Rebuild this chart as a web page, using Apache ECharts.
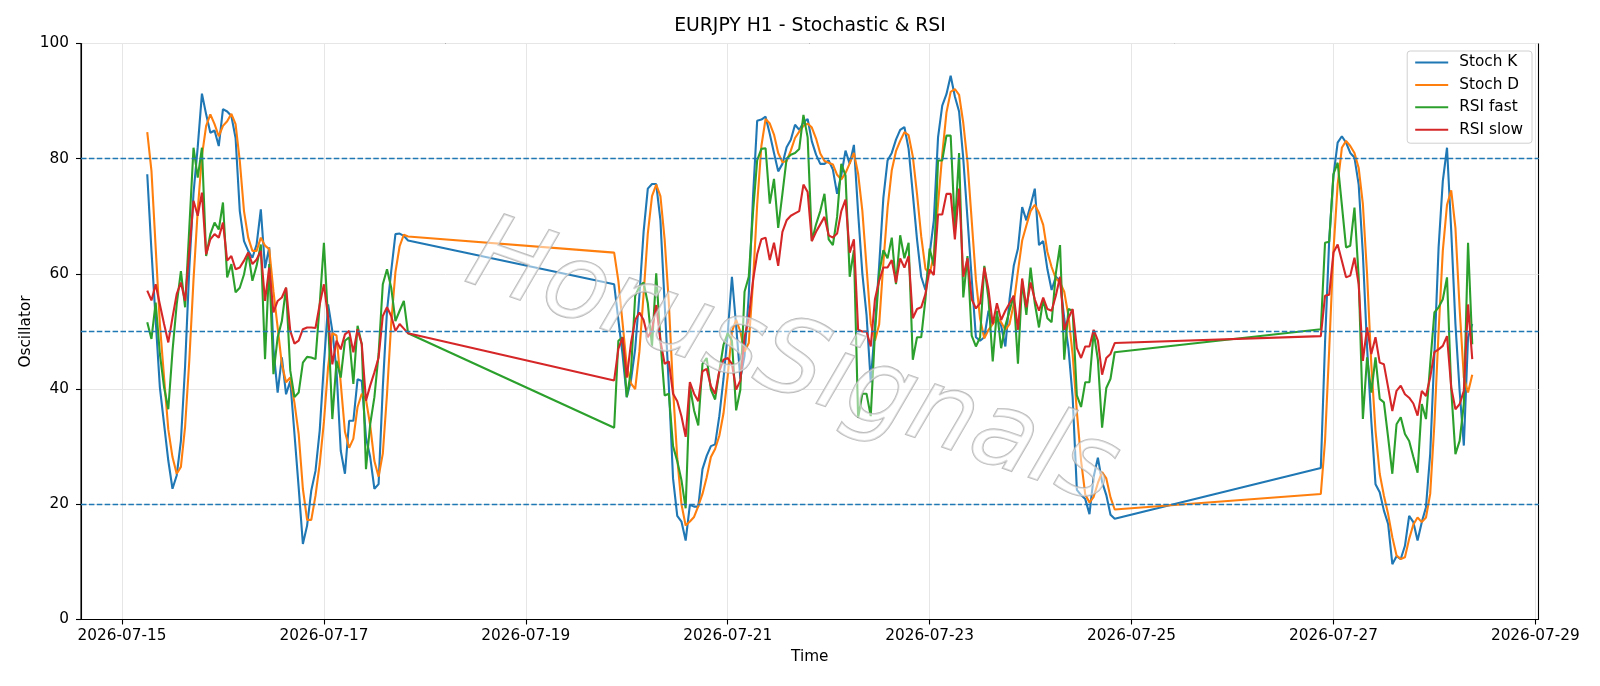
<!DOCTYPE html>
<html>
<head>
<meta charset="utf-8">
<title>EURJPY H1 - Stochastic & RSI</title>
<script src="https://cdn.jsdelivr.net/npm/echarts@6/dist/echarts.min.js"></script>
<style>
  html, body { margin: 0; padding: 0; background: #fff; }
  #chart { width: 1600px; height: 686px; }
</style>
</head>
<body>
<div id="chart"></div>
<script>
// hourly bars in three trading blocks, weekends are skipped
const segmentStarts = ['2026-07-15T06:00:00Z', '2026-07-19T21:00:00Z', '2026-07-26T21:00:00Z'];
const segmentLengths = [63, 120, 37];
const dateTicks = ['2026-07-15', '2026-07-17', '2026-07-19', '2026-07-21', '2026-07-23', '2026-07-25', '2026-07-27', '2026-07-29'];
const yTicks = [0, 20, 40, 60, 80, 100];
const levels = [20, 50, 80];

const stochK = [
  77.3, 64, 52, 40.3, 33.9, 27.6, 22.7, 25, 31, 44, 61, 74, 82, 91.3, 87.7, 84.5, 84.9, 82.2, 88.6, 88.2, 87.4, 83.6,
  70.9, 65.7, 64, 62.8, 65.1, 71.2, 61, 64.6, 47, 39.4, 45.5, 39.1, 41.4, 32.2, 22.9, 13.1, 16.3, 22.4, 25.8, 32.8,
  44.3, 54.7, 50.1, 43.2, 29.3, 25.3, 34.5, 34.5, 41.7, 41.4, 31.6, 28.2, 22.7, 23.5, 40.3, 53.6, 60.5, 66.9, 67, 66.6, 65.8,
  58.2, 52, 46, 38.6, 41.5, 47, 56.2, 67.3, 74.8, 75.6, 75.6, 69.3, 54.9, 40.5, 24.5, 18, 17, 13.7, 19.9, 19.6,
  19.6, 26.1, 28.4, 30.1, 30.4, 35.3, 41.8, 49.7, 59.5, 51, 41.8, 45.8, 56.2, 73.2, 86.6, 86.8, 87.3, 84.3, 81, 77.8,
  79.1, 82, 83.3, 85.9, 85, 86.3, 86.9, 83, 80.7, 79.1, 79.1, 79.7, 78.1, 73.9, 77.1, 81.4, 79.1, 82.4, 70.6, 60.1,
  52.9, 41.2, 51, 61.4, 73.2, 79.7, 81, 83.3, 85, 85.5, 81.7, 73.9, 66, 59.5, 57.2, 63.4, 69.3, 83.7, 89.2, 91.2,
  94.4, 90.8, 88.2, 80, 69.6, 59.2, 49, 48.4, 49, 53.6, 51.3, 52.6, 51, 47.4, 55.6, 61.4, 64.4, 71.6, 69.3, 71.9,
  74.8, 65, 65.7, 60.8, 57.2, 59.5, 58.8, 52.3, 47.1, 38.6, 22.5, 21.6, 20.9, 18.3, 24.8, 28.1, 23.9, 21.6, 18.2, 17.5,
  26.3, 48, 66, 77, 82.8, 83.9, 82.8, 81, 80.2, 75.5, 63.4, 47.2, 34.5, 23.5, 22.1, 18.9, 16.6, 9.6, 11, 10.5,
  12.8, 18, 16.9, 13.7, 16.9, 19.5, 28.7, 46.1, 64.6, 76.1, 81.9, 67.5, 51.3, 39.7, 30.2, 49, 51.3
];

const stochD = [
  84.6, 77.9, 64.6, 51.3, 42, 33, 28.2, 25.3, 26.5, 33.5, 45, 59, 71, 80.5, 85.7, 87.7, 86, 83.9, 85.7, 86.5, 87.8, 86,
  79.6, 70.9, 66.3, 64, 64, 66.3, 64.9, 64.3, 57, 50.7, 44.3, 41.2, 42, 37.6, 32.2, 22.7, 17.3, 17.3, 21.5, 27,
  34.3, 43.9, 49.7, 49.3, 41, 32.6, 29.8, 31.4, 36.9, 39.2, 38.2, 33.7, 27.5, 24.8, 28.8, 39.1, 51.5, 60.3, 64.8, 66.8, 66.5,
  63.7, 58.8, 51.5, 44, 41, 40, 46.5, 56.5, 67, 73.5, 75.5, 73.5, 66, 55, 40, 28, 20, 16.3, 17, 17.8,
  19.7, 21.8, 24.7, 28.2, 29.6, 31.9, 35.8, 42.3, 50, 52, 50, 46.5, 48, 58.4, 72, 82.2, 86.9, 86.1, 84.2, 81,
  79.4, 79.6, 81.4, 83.6, 84.7, 85.7, 86.1, 85.4, 83.5, 80.9, 79.6, 79.3, 79, 77.2, 76.4, 77.5, 79.2, 81, 77.4, 71,
  61.2, 51.4, 48.4, 51.2, 61.9, 71.4, 78, 81.3, 83.1, 84.6, 84.1, 80.4, 73.9, 66.5, 60.9, 60, 63.3, 72.1, 80.7, 88,
  91.6, 92.1, 91.1, 86.2, 79.4, 69.3, 59, 52.2, 48.8, 50.3, 51.3, 52.5, 51.6, 50.3, 51.3, 54.8, 60.5, 65.8, 68.4, 70.9,
  72, 70.6, 68.5, 63.8, 61.2, 59.2, 58.5, 56.9, 52.7, 46, 36.1, 27.6, 21.7, 20.3, 21.3, 23.7, 25.6, 24.5, 21.2, 19.1,
  21.8, 31, 47, 64, 75.5, 81.9, 83.1, 82.2, 81, 78.4, 72.1, 59.9, 44.3, 32.8, 25.3, 21.5, 18.3, 14.3, 11.1, 10.5,
  10.8, 14, 16.5, 17.7, 16.9, 17.7, 21.8, 34, 50, 64, 72, 74.5, 68, 54, 42, 39.4, 42.5
];

const rsiFast = [
  51.6, 48.7, 55, 46.1, 40.3, 36.5, 46.6, 54.7, 60.5, 54.2, 68, 81.9, 76.7, 81.9, 63.1, 66.9, 68.9, 67.7, 72.4, 59.4, 61.7, 56.8,
  57.6, 59.9, 63.7, 58.8, 61.4, 65.1, 45.2, 61.7, 42.6, 49, 51.8, 57.6, 43.2, 38.6, 39.4, 44.6, 45.6, 45.5, 45.2, 54.7,
  65.4, 51.8, 34.8, 44.9, 42, 48.4, 49, 40.9, 51, 47.8, 26.1, 33.9, 38.6, 46.1, 58.2, 60.8, 57.6, 51.8, 53.6, 55.3, 49.7,
  33.3, 48.4, 49, 38.6, 43.1, 56.2, 57.8, 58.5, 54.9, 47.4, 60.1, 48.4, 38.9, 39.2, 30.1, 27.5, 24.2, 19.3, 40.5, 36.3,
  33.7, 44.4, 45.4, 39.9, 38.2, 43.1, 47.7, 49.7, 48.4, 36.3, 39.9, 56.9, 59.5, 70.6, 79.7, 81.7, 81.8, 72.2, 76.5, 68,
  73.9, 80, 80.7, 81, 81.7, 87.6, 83.7, 65.7, 68.6, 70.9, 73.9, 66, 65, 69.9, 79.1, 77.1, 59.5, 64.1, 35, 39.2,
  39.2, 35.3, 49.7, 60.1, 64.1, 62.7, 66.3, 58.2, 66.7, 62.7, 65.4, 45.1, 49, 49, 55.6, 64.4, 61.4, 79.7, 79.7, 84,
  84, 68, 81, 55.9, 63.1, 49.3, 47.4, 49, 61.4, 55.6, 44.8, 53.6, 47.1, 51, 53.6, 56.2, 44.4, 58.8, 52.9, 61.1,
  54.9, 50.7, 55.6, 52.3, 51.6, 60.1, 65, 45.1, 53.9, 53.6, 38.9, 36.9, 41.2, 41.2, 50, 45.1, 33.3, 40.2, 41.8, 46.4,
  50.4, 65.4, 65.6, 77.3, 79.3, 72, 64.6, 64.9, 71.5, 59.4, 34.8, 45.5, 39.4, 45.5, 38.3, 37.7, 31.6, 25.3, 33.9, 35.1,
  32.2, 31, 28.2, 25.5, 37.4, 34.8, 44.3, 53.3, 54.2, 55.6, 59.4, 40, 28.7, 31, 37.4, 65.4, 47.8
];

const rsiSlow = [
  57.1, 55.4, 58.2, 54.7, 51.3, 48.1, 52.4, 56.5, 58.5, 55.3, 64, 72.7, 70.1, 74.1, 63.4, 66, 66.9, 66.3, 68.9, 62.3, 63.1, 60.8,
  61.1, 62.3, 63.7, 61.7, 62.5, 64, 55.3, 61.1, 53.3, 55.3, 55.9, 57.6, 50.1, 47.9, 48.4, 50.4, 50.7, 50.7, 50.6, 54.7,
  58.2, 52.4, 44.3, 48.4, 46.9, 49.5, 50.1, 46.4, 50.4, 47.8, 38, 40.6, 42.9, 45.5, 52.7, 54.2, 52.7, 50.1, 51.3, 50.5, 49.7,
  41.5, 47, 49, 42, 48, 52, 53.3, 52, 49, 50.3, 54.6, 48.4, 44.4, 44.8, 39.2, 37.9, 35.3, 31.7, 41.2, 39.2,
  37.9, 43.1, 43.5, 40.5, 39.2, 43.1, 45.1, 45.4, 44.4, 39.9, 41.5, 49, 52.3, 58.8, 63.4, 66, 66.3, 62.4, 65.4, 61.4,
  67.3, 69.3, 70.1, 70.5, 70.9, 75.5, 74.2, 65.7, 67.3, 68.6, 69.9, 66.7, 66.3, 67, 70.9, 72.9, 63.7, 66, 50.3, 50,
  50, 47.4, 55.6, 58.8, 61.1, 61.1, 62.4, 58.5, 62.7, 61.1, 63.1, 52.3, 53.9, 54.2, 56.5, 60.8, 59.8, 70.3, 70.3, 73.9,
  73.9, 66, 74.8, 59.5, 62.7, 55.6, 54, 54.9, 61.1, 57.2, 51.3, 54.9, 52, 53.6, 54.9, 56.2, 50.3, 59.2, 54.2, 58.5,
  55.6, 53.6, 55.9, 53.9, 53.6, 56.2, 59.5, 50.3, 52.3, 53.9, 47.1, 45.4, 47.4, 47.4, 50.3, 48.4, 42.5, 45.4, 46.1, 48,
  49.2, 56.2, 56.4, 63.7, 65.1, 62.3, 59.4, 59.7, 62.8, 58.2, 44.9, 50.7, 46.1, 49, 44.6, 44.3, 40.3, 36.2, 39.7, 40.6,
  39.1, 38.5, 37.5, 35.4, 39.7, 38.8, 42, 46.4, 46.9, 47.5, 49.2, 40.3, 36.5, 37.4, 39.7, 54.7, 45.2
];

const HOUR = 3600 * 1000;
const times = [];
segmentStarts.forEach(function (s, i) {
  const t0 = Date.parse(s);
  for (let k = 0; k < segmentLengths[i]; k++) times.push(t0 + k * HOUR);
});
const pairs = vals => vals.map((v, i) => [times[i], v]);

// matplotlib style 5% margin on the time axis
const tFirst = times[0];
const tLast = times[times.length - 1];
const pad = (tLast - tFirst) * 0.05;
const tickValues = dateTicks.map(d => Date.parse(d + 'T00:00:00Z'));

const FONT = 'DejaVu Sans';
const FS = 15.3;
const chart = echarts.init(document.getElementById('chart'));

function lineSeries(name, vals, color, extra) {
  return Object.assign({
    name: name,
    type: 'line',
    data: pairs(vals),
    symbol: 'none',
    lineStyle: { width: 2.1, color: color },
    itemStyle: { color: color },
    emphasis: { disabled: true }
  }, extra || {});
}

chart.setOption({
  animation: false,
  backgroundColor: '#fff',
  grid: {
    left: 81, right: 61.5, top: 43.5, bottom: 66.5,
    show: true, borderColor: '#000', borderWidth: 1.1, backgroundColor: 'transparent'
  },
  legend: {
    orient: 'vertical',
    right: 68, top: 51,
    itemWidth: 33, itemHeight: 16, itemGap: 7.4,
    padding: [4, 9, 6, 7],
    backgroundColor: 'rgba(255,255,255,0.8)',
    borderColor: '#d0d0d0', borderWidth: 1, borderRadius: 3,
    itemStyle: { opacity: 0 },
    textStyle: { fontFamily: FONT, fontSize: FS, color: '#000', padding: [0, 0, 0, 6] },
    data: ['Stoch K', 'Stoch D', 'RSI fast', 'RSI slow']
  },
  xAxis: {
    type: 'value',
    min: tFirst - pad,
    max: tLast + pad,
    name: 'Time',
    nameLocation: 'middle',
    nameGap: 30,
    nameTextStyle: { fontFamily: FONT, fontSize: FS, color: '#000' },
    axisLine: { show: true, lineStyle: { color: '#000', width: 1.1 } },
    axisTick: { show: true, length: 5, lineStyle: { color: '#000', width: 1.1 }, customValues: tickValues },
    axisLabel: {
      customValues: tickValues,
      margin: 9,
      fontFamily: FONT, fontSize: FS, color: '#000',
      formatter: v => new Date(v).toISOString().slice(0, 10)
    },
    splitLine: { show: true, lineStyle: { color: '#e6e6e6', width: 1 } }
  },
  yAxis: {
    type: 'value',
    min: 0, max: 100, interval: 20,
    name: 'Oscillator',
    nameLocation: 'middle',
    nameGap: 47,
    nameMoveOverlap: false,
    nameRotate: 90,
    nameTextStyle: { fontFamily: FONT, fontSize: FS, color: '#000' },
    axisLine: { show: true, lineStyle: { color: '#000', width: 1.1 } },
    axisTick: { show: true, length: 5, lineStyle: { color: '#000', width: 1.1 }, customValues: yTicks },
    axisLabel: { customValues: yTicks, margin: 12, fontFamily: FONT, fontSize: FS, color: '#000' },
    splitLine: { show: true, lineStyle: { color: '#e6e6e6', width: 1 } }
  },
  graphic: [
    {
      type: 'text', x: 810, y: 26.5, silent: true,
      style: {
        text: 'EURJPY H1 - Stochastic & RSI',
        font: '18.8px "DejaVu Sans"', fill: '#000',
        textAlign: 'center', textVerticalAlign: 'middle'
      }
    },
    {
      // watermark
      type: 'text', x: 792, y: 366, rotation: -0.335, silent: true, z: 100,
      style: {
        text: 'HorusSignals',
        font: 'italic 104px "DejaVu Sans"',
        fill: 'rgba(255,255,255,0.5)',
        stroke: 'rgba(170,170,170,0.8)', lineWidth: 1.8,
        shadowColor: 'rgba(0,0,0,0.3)', shadowBlur: 3, shadowOffsetX: 3, shadowOffsetY: 4,
        textAlign: 'center', textVerticalAlign: 'middle'
      }
    }
  ],
  series: [
    lineSeries('Stoch K', stochK, '#1f77b4', {
      markLine: {
        silent: true,
        symbol: 'none',
        label: { show: false },
        lineStyle: { color: '#1f77b4', type: [5.5, 2.4], width: 1.3 },
        data: levels.map(l => ({ yAxis: l }))
      }
    }),
    lineSeries('Stoch D', stochD, '#ff7f0e'),
    lineSeries('RSI fast', rsiFast, '#2ca02c'),
    lineSeries('RSI slow', rsiSlow, '#d62728')
  ]
});
</script>
</body>
</html>
